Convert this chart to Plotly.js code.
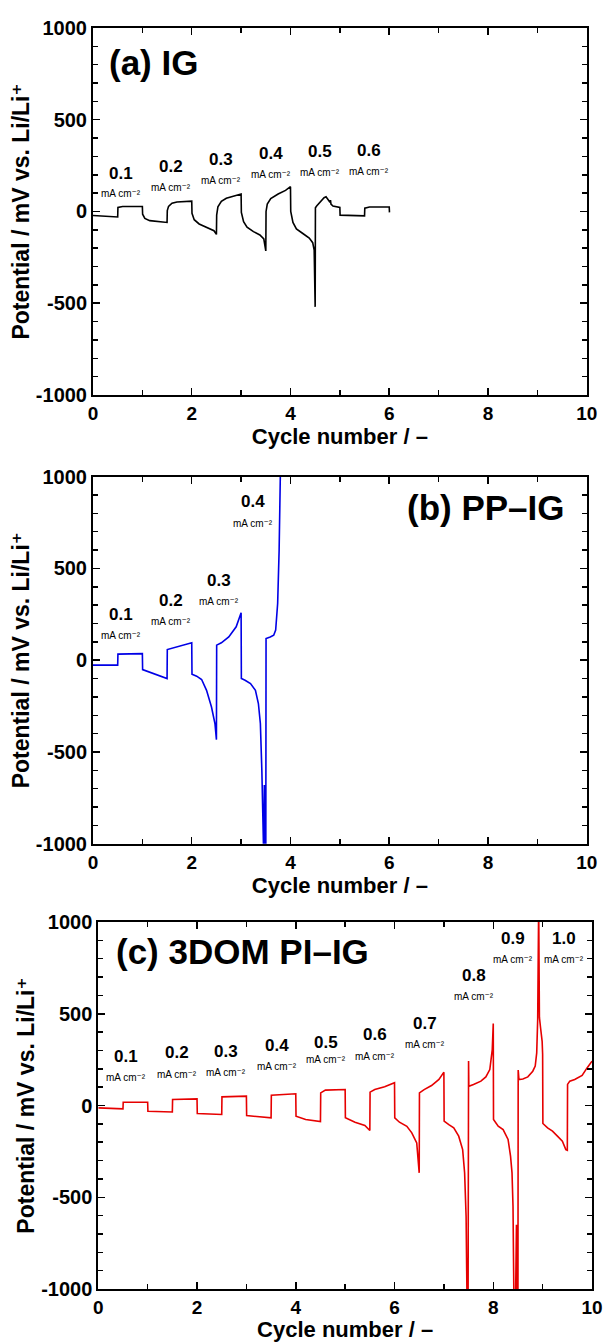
<!DOCTYPE html>
<html><head><meta charset="utf-8">
<script src="https://cdn.plot.ly/plotly-3.0.1.min.js"></script>
<style>html,body{margin:0;padding:0;background:#fff;}#chart{width:605px;height:1342px;}</style>
</head><body><div id="chart"></div>
<script>
// ---------- data ----------
const cycleA = [0,0.25,0.5,0.505,0.6,1.0,1.005,1.05,1.15,1.5,1.505,1.53,1.6,1.7,2.0,2.005,2.05,2.15,2.3,2.45,2.5,2.505,2.53,2.6,2.7,2.85,3.0,3.005,3.05,3.12,3.25,3.38,3.46,3.5,3.505,3.53,3.6,3.75,3.9,4.0,4.005,4.05,4.12,4.25,4.38,4.45,4.48,4.5,4.505,4.53,4.6,4.68,4.72,4.78,4.8,4.81,4.82,4.86,4.95,5.0,5.005,5.2,5.5,5.505,5.6,6.0,6.005];
const potentialA = [-22,-26,-30,22,27,27,-15,-38,-50,-60,5,28,45,52,56,-10,-45,-68,-88,-105,-125,-20,25,55,72,82,95,-5,-55,-85,-110,-128,-150,-215,0,40,70,95,115,135,0,-60,-95,-120,-145,-170,-210,-520,20,30,50,75,80,60,50,62,40,30,24,22,-20,-22,-24,18,24,24,-5];

const cycleB = [0,0.5,0.505,1.0,1.005,1.5,1.505,2.0,2.005,2.1,2.2,2.3,2.4,2.47,2.5,2.505,2.6,2.75,2.9,3.0,3.005,3.08,3.19,3.29,3.35,3.39,3.42,3.44,3.46,3.47,3.48,3.49,3.5,3.505,3.59,3.66,3.7,3.74,3.77,3.8];
const potentialB = [-27,-27,33,36,-51,-100,58,95,-76,-87,-105,-164,-255,-345,-433,82,95,127,182,258,-100,-109,-127,-164,-236,-345,-600,-1100,-1100,-680,-1100,-1100,-1100,118,127,136,164,309,600,1100];

const cycleC = [0,0.5,0.505,1.0,1.005,1.5,1.505,2.0,2.005,2.5,2.505,3.0,3.005,3.5,3.505,4.0,4.005,4.2,4.5,4.505,4.6,5.0,5.005,5.2,5.4,5.5,5.505,5.6,5.8,6.0,6.005,6.1,6.25,6.35,6.45,6.5,6.505,6.6,6.75,6.9,7.0,7.005,7.1,7.2,7.3,7.38,7.42,7.45,7.47,7.49,7.5,7.505,7.6,7.75,7.85,7.93,7.98,8.0,8.005,8.1,8.2,8.3,8.35,8.38,8.4,8.42,8.45,8.47,8.48,8.5,8.505,8.52,8.6,8.7,8.8,8.85,8.88,8.9,8.92,8.935,8.96,8.99,9.0,9.005,9.1,9.2,9.3,9.4,9.47,9.5,9.505,9.55,9.65,9.8,9.9,10.0];
const potentialC = [-13,-18,18,18,-31,-35,33,36,-44,-49,47,51,-55,-67,56,64,-58,-76,-87,69,84,87,-67,-91,-109,-136,73,87,102,124,-67,-91,-113,-149,-204,-367,69,87,109,142,182,-85,-104,-122,-167,-240,-367,-604,-1100,-1100,242,105,115,133,156,196,305,447,-76,-113,-131,-185,-276,-367,-549,-1100,-1100,-650,-1100,-1100,193,142,145,156,187,215,287,469,1100,480,420,350,280,-98,-122,-140,-167,-195,-240,-244,115,133,142,164,205,242];

const panelNames = ['(a) IG','(b) PP\u2013IG','(c) 3DOM PI\u2013IG'];
const ratesA = ['0.1','0.2','0.3','0.4','0.5','0.6'];
const ratesB = ['0.1','0.2','0.3','0.4'];
const ratesC = ['0.1','0.2','0.3','0.4','0.5','0.6','0.7','0.8','0.9','1.0'];
const rateUnit = 'mA cm\u207B\u00B2';
const xTitle = 'Cycle number / \u2013';
const yTitle = 'Potential / mV vs. Li/Li\u207A';
const yTickVals = [-1000,-500,0,500,1000];
const yTickText = ['-1000','-500','0','500','1000'];
const xTickVals = [0,2,4,6,8,10];
const xTickText = ['0','2','4','6','8','10'];

// ---------- layout positions (label placement only) ----------
const rateLabelPosA = [[0.56,209,98],[1.57,246,130],[2.59,283,169],[3.6,315,200],[4.6,326,213],[5.59,333,218]];
const rateLabelPosB = [[0.56,251,133],[1.57,327,209],[2.56,436,318],[3.25,864,745]];
const rateLabelPosC = [[0.57,269,155],[1.59,287,169],[2.59,296,182],[3.61,327,215],[4.61,345,251],[5.61,387,269],[6.61,447,333],[7.61,706,592],[8.40,912,796],[9.43,912,796]];

const FONT = '"Liberation Sans", Arial, Helvetica, "DejaVu Sans", sans-serif';
const BLACK = '#000000';

function xAxis(domain, anchor){
  return {domain:domain, anchor:anchor, range:[0,10], tickmode:'array', tickvals:xTickVals, ticktext:xTickText,
    ticks:'inside', ticklen:7, tickwidth:1.5, tickcolor:BLACK,
    minor:{tickmode:'linear', tick0:0, dtick:1, ticks:'inside', ticklen:5, tickwidth:1.5, tickcolor:BLACK},
    showline:true, linewidth:2, linecolor:BLACK, mirror:'ticks', showgrid:false, zeroline:false,
    tickfont:{family:FONT, size:19, color:BLACK, weight:'bold'},
    title:{text:xTitle, font:{family:FONT, size:22, color:BLACK, weight:'bold'}, standoff:5},
    fixedrange:true};
}
function yAxis(domain, anchor){
  return {domain:domain, anchor:anchor, range:[-1000,1000], tickmode:'array', tickvals:yTickVals, ticktext:yTickText,
    ticks:'inside', ticklen:7, tickwidth:1.5, tickcolor:BLACK,
    minor:{tickmode:'linear', tick0:0, dtick:100, ticks:'inside', ticklen:5, tickwidth:1.5, tickcolor:BLACK},
    showline:true, linewidth:2, linecolor:BLACK, mirror:'ticks', showgrid:false, zeroline:false,
    tickfont:{family:FONT, size:20, color:BLACK, weight:'bold'},
    title:{text:yTitle, font:{family:FONT, size:23, color:BLACK, weight:'bold'}, standoff:0},
    fixedrange:true};
}

const traces = [
  {x:cycleA, y:potentialA, xaxis:'x', yaxis:'y', type:'scatter', mode:'lines', line:{color:'#000000', width:1.6}, hoverinfo:'skip', showlegend:false},
  {x:cycleB, y:potentialB, xaxis:'x2', yaxis:'y2', type:'scatter', mode:'lines', line:{color:'#0000e6', width:1.6}, hoverinfo:'skip', showlegend:false},
  {x:cycleC, y:potentialC, xaxis:'x3', yaxis:'y3', type:'scatter', mode:'lines', line:{color:'#e60000', width:1.6}, hoverinfo:'skip', showlegend:false}
];

const annotations = [];
function addRates(rates, pos, xr, yr){
  rates.forEach(function(r,i){
    annotations.push({x:pos[i][0], y:pos[i][1], xref:xr, yref:yr, text:r, showarrow:false,
      font:{family:FONT, size:17, color:BLACK, weight:'bold'}, xanchor:'center', yanchor:'middle'});
    annotations.push({x:pos[i][0], y:pos[i][2], xref:xr, yref:yr, text:rateUnit, showarrow:false,
      font:{family:FONT, size:10, color:BLACK}, xanchor:'center', yanchor:'middle'});
  });
}
addRates(ratesA, rateLabelPosA, 'x', 'y');
addRates(ratesB, rateLabelPosB, 'x2', 'y2');
addRates(ratesC, rateLabelPosC, 'x3', 'y3');
annotations.push({x:0.29, y:814, xref:'x', yref:'y', text:panelNames[0], showarrow:false, xanchor:'left', yanchor:'middle', font:{family:FONT, size:35, color:BLACK, weight:'bold'}});
annotations.push({x:9.61, y:834, xref:'x2', yref:'y2', text:panelNames[1], showarrow:false, xanchor:'right', yanchor:'middle', font:{family:FONT, size:35, color:BLACK, weight:'bold'}});
annotations.push({x:0.31, y:837, xref:'x3', yref:'y3', text:panelNames[2], showarrow:false, xanchor:'left', yanchor:'middle', font:{family:FONT, size:35, color:BLACK, weight:'bold'}});

const layout = {
  width:605, height:1342, margin:{l:93, r:13, t:28, b:53, autoexpand:false},
  paper_bgcolor:'#ffffff', plot_bgcolor:'#ffffff', showlegend:false,
  xaxis: xAxis([0,0.9894],'y'),   yaxis: yAxis([0.7090,1],'x'),
  xaxis2: xAxis([0,0.9894],'y2'), yaxis2: yAxis([0.3531,0.6442],'x2'),
  xaxis3: xAxis([0.0106,1],'y3'), yaxis3: yAxis([0,0.2910],'x3'),
  annotations: annotations
};

Plotly.newPlot('chart', traces, layout, {staticPlot:true, displayModeBar:false});
</script></body></html>
